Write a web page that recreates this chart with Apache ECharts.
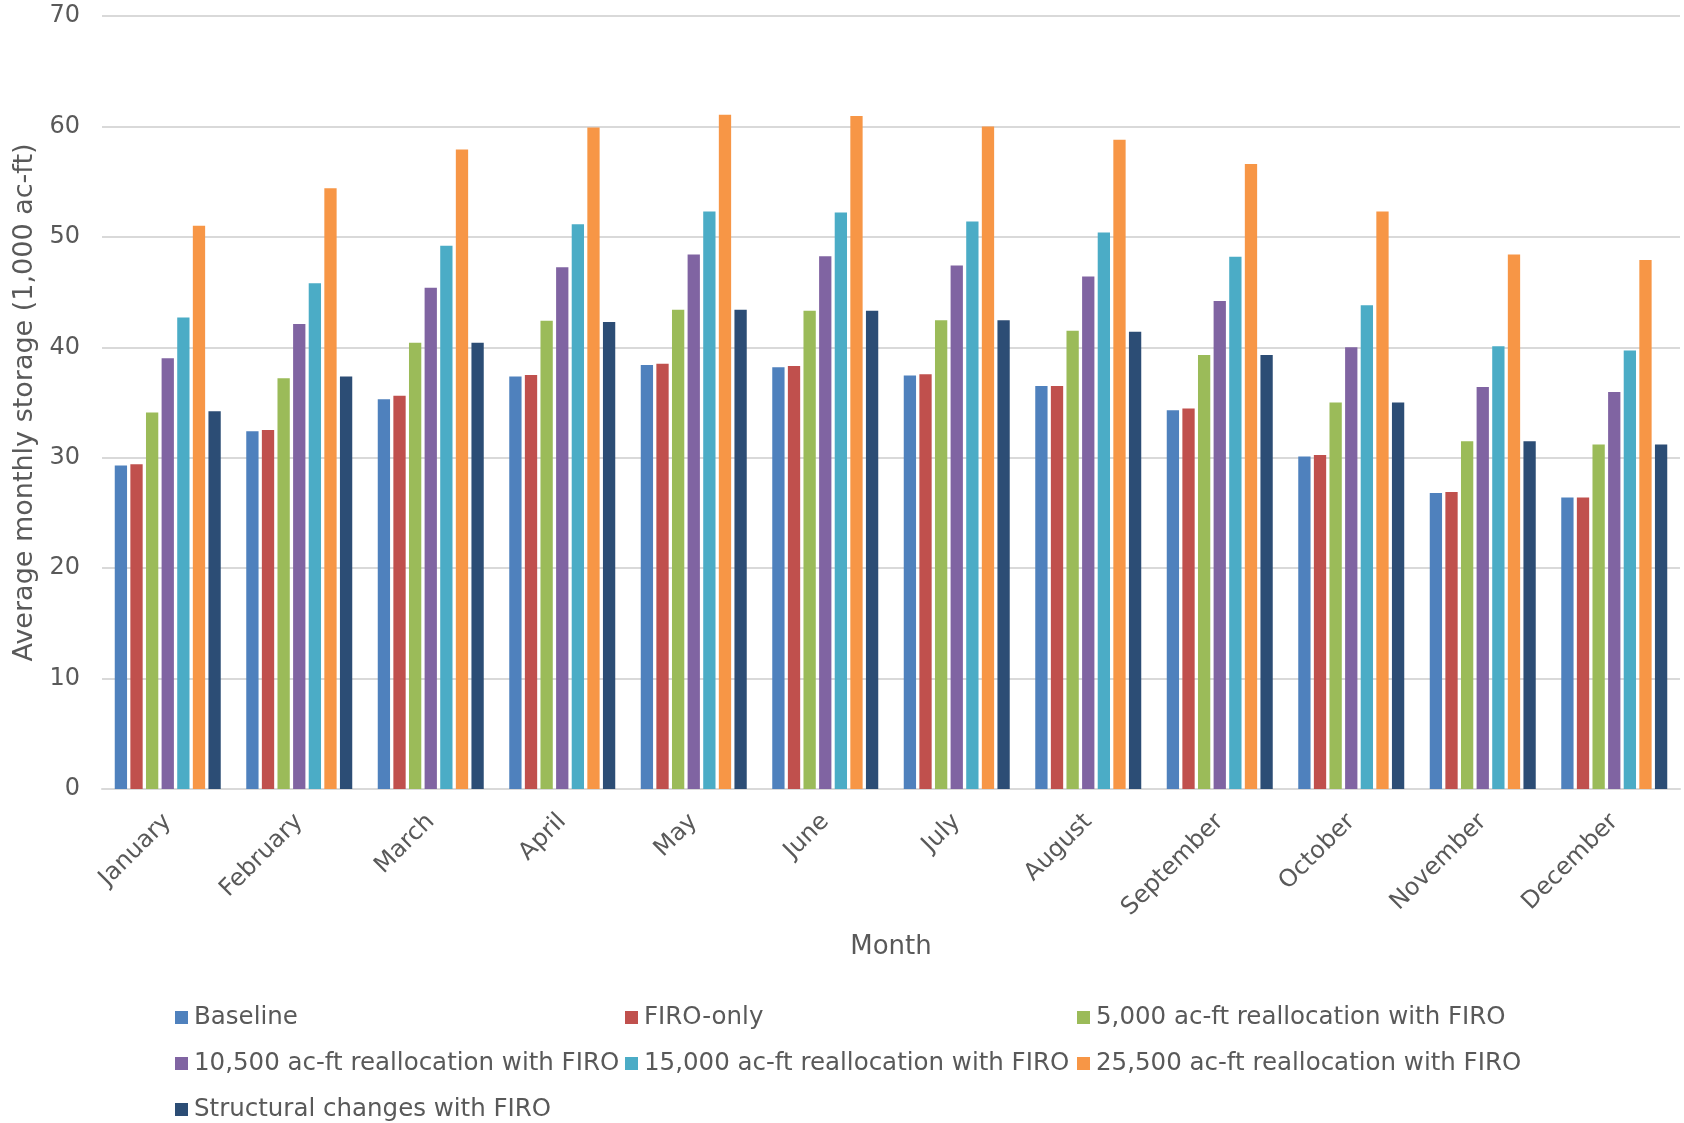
<!DOCTYPE html>
<html>
<head>
<meta charset="utf-8">
<title>Average monthly storage</title>
<script src="https://cdn.jsdelivr.net/npm/echarts@6/dist/echarts.min.js"></script>
<style>
  html, body { margin: 0; padding: 0; background: #ffffff; }
  #chart { width: 1684px; height: 1123px; }
</style>
</head>
<body>
<div id="chart"></div>
<script>
// Months on the category axis
const months = ['January', 'February', 'March', 'April', 'May', 'June',
  'July', 'August', 'September', 'October', 'November', 'December'];

// Average monthly storage per scenario (1,000 ac-ft)
const baseline = [29.3, 32.4, 35.3, 37.35, 38.4, 38.2, 37.45, 36.5, 34.3, 30.1, 26.8, 26.4];
const firoOnly = [29.4, 32.5, 35.6, 37.5, 38.5, 38.3, 37.55, 36.5, 34.45, 30.25, 26.9, 26.4];
const realloc5000 = [34.1, 37.2, 40.4, 42.4, 43.4, 43.3, 42.45, 41.5, 39.3, 35.0, 31.5, 31.2];
const realloc10500 = [39.0, 42.1, 45.4, 47.25, 48.4, 48.25, 47.4, 46.4, 44.2, 40.0, 36.4, 35.95];
const realloc15000 = [42.7, 45.8, 49.2, 51.15, 52.3, 52.2, 51.4, 50.4, 48.2, 43.8, 40.1, 39.7];
const realloc25500 = [51.0, 54.4, 57.9, 59.9, 61.05, 60.95, 60.0, 58.8, 56.6, 52.3, 48.4, 47.9];
const structural = [34.2, 37.35, 40.4, 42.3, 43.4, 43.3, 42.45, 41.4, 39.3, 35.0, 31.5, 31.2];

// Scenario names, in drawing order
const seriesNames = [
  'Baseline',
  'FIRO-only',
  '5,000 ac-ft reallocation with FIRO',
  '10,500 ac-ft reallocation with FIRO',
  '15,000 ac-ft reallocation with FIRO',
  '25,500 ac-ft reallocation with FIRO',
  'Structural changes with FIRO'
];
const seriesValues = [baseline, firoOnly, realloc5000, realloc10500, realloc15000, realloc25500, structural];
const colors = ['#4F81BD', '#C0504D', '#9BBB59', '#8064A2', '#4BACC6', '#F79646', '#2C4D75'];

// Value axis ticks
const yMin = 0, yMax = 70, yStep = 10;

const textColor = '#595959';
const fontFamily = '"DejaVu Sans", Verdana, sans-serif';

const chart = echarts.init(document.getElementById('chart'), null, { renderer: 'canvas' });

// Legend laid out as a three-column grid: one vertical legend per column
const legendColumns = [
  { left: 175, names: [seriesNames[0], seriesNames[3], seriesNames[6]] },
  { left: 625, names: [seriesNames[1], seriesNames[4]] },
  { left: 1077, names: [seriesNames[2], seriesNames[5]] }
];

const option = {
  backgroundColor: '#ffffff',
  color: colors,
  textStyle: { fontFamily: fontFamily },
  grid: { left: 102, right: 4, top: 16, bottom: 334, containLabel: false },
  legend: legendColumns.map(col => ({
    orient: 'vertical',
    left: col.left,
    top: 1005,
    data: col.names,
    icon: 'rect',
    itemWidth: 13,
    itemHeight: 13,
    itemGap: 21,
    padding: 0,
    textStyle: { color: textColor, fontSize: 24.5, lineHeight: 24, fontFamily: fontFamily, padding: [0, 0, 0, 1] },
    selectedMode: false
  })),
  xAxis: {
    type: 'category',
    data: months,
    name: 'Month',
    nameLocation: 'middle',
    nameGap: 145,
    nameTextStyle: { color: textColor, fontSize: 26, fontFamily: fontFamily },
    axisLine: { show: true, lineStyle: { color: '#D9D9D9', width: 2 } },
    axisTick: { show: false },
    axisLabel: { color: textColor, fontSize: 24, rotate: 45, margin: 29, interval: 0, fontFamily: fontFamily }
  },
  yAxis: {
    type: 'value',
    min: yMin,
    max: yMax,
    interval: yStep,
    name: 'Average monthly storage (1,000 ac-ft)',
    nameLocation: 'middle',
    nameGap: 56,
    nameTextStyle: { color: textColor, fontSize: 27, fontFamily: fontFamily },
    axisLine: { show: false },
    axisTick: { show: false },
    axisLabel: { color: textColor, fontSize: 24, margin: 22, fontFamily: fontFamily },
    splitLine: { show: true, lineStyle: { color: '#D9D9D9', width: 2 } }
  },
  series: seriesNames.map((name, i) => ({
    name: name,
    type: 'bar',
    data: seriesValues[i],
    barGap: '27%',
    barCategoryGap: '19.4%',
    itemStyle: { color: colors[i] },
    animation: false
  }))
};

chart.setOption(option);
</script>
</body>
</html>
